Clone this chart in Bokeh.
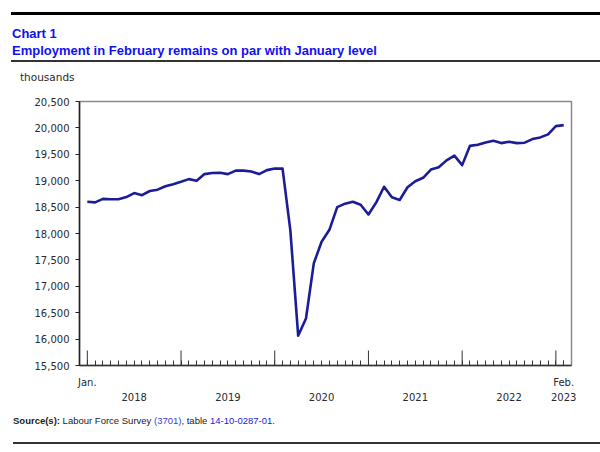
from bokeh.plotting import figure
from bokeh.models import (Range1d, FixedTicker, NumeralTickFormatter, LinearAxis, Div)
from bokeh.layouts import column
from bokeh.embed import file_html
from bokeh.resources import INLINE

# ---- data ----
title_1 = "Chart 1"
title_2 = "Employment in February remains on par with January level"
unit_label = "thousands"
years = [2018, 2019, 2020, 2021, 2022, 2023]
months = [f"{y}-{m:02d}" for y in years for m in range(1, 13)][:62]  # Jan 2018 .. Feb 2023
employment = [
    18600, 18590, 18655, 18650, 18650, 18690, 18765, 18725, 18805, 18830, 18895, 18935,
    18980, 19030, 19000, 19125, 19145, 19150, 19125, 19190, 19190, 19175, 19125, 19200,
    19230, 19228, 18060, 16065, 16390, 17435, 17845, 18070, 18500, 18565, 18600, 18545,
    18360, 18590, 18885, 18685, 18635, 18875, 18990, 19055, 19210, 19255, 19385, 19475,
    19295, 19660, 19680, 19725, 19755, 19712, 19738, 19712, 19720, 19788, 19820, 19877,
    20034, 20053,
]
y_ticks = [15500, 16000, 16500, 17000, 17500, 18000, 18500, 19000, 19500, 20000, 20500]
year_label_months = ["2018-07", "2019-07", "2020-07", "2021-07", "2022-07", "2023-02"]
year_labels = ["2018", "2019", "2020", "2021", "2022", "2023"]
end_labels = {"2018-01": "Jan.", "2023-02": "Feb."}

x_idx = list(range(len(months)))
jan_idx = [i for i, m in enumerate(months) if m.endswith("-01")]
end_idx = [months.index(m) for m in end_labels]
year_idx = [months.index(m) for m in year_label_months]

LINE = "#1c1c98"
TXT = "#2a2a2a"
AX = "#333333"
FONT_TICK = "DejaVu Sans"

# ---- header (titles, rules, unit) ----
header = Div(width=600, height=90, margin=(0, 0, 0, 0), text=f"""
<div style="position:relative;width:600px;height:90px;font-family:'Liberation Sans',Arial,sans-serif;">
  <div style="position:absolute;left:11px;top:12px;width:589px;height:0;border-top:3px solid #000;"></div>
  <div style="position:absolute;left:12px;top:26px;font-size:13px;font-weight:bold;color:#1010f0;line-height:16.5px;white-space:nowrap;">{title_1}<br>{title_2}</div>
  <div style="position:absolute;left:11px;top:60px;width:589px;height:0;border-top:2px solid #333;"></div>
  <div style="position:absolute;left:20px;top:70px;font-family:'DejaVu Sans';font-size:10.5px;line-height:14px;color:{TXT};white-space:nowrap;">{unit_label}</div>
</div>""")

# ---- figure ----
p = figure(width=600, height=320, output_backend="svg", toolbar_location=None,
           x_range=Range1d(-1, 62), y_range=Range1d(15500, 20500),
           min_border_left=79, min_border_right=29, min_border_top=11, min_border_bottom=45,
           background_fill_color="white", border_fill_color="white")
p.grid.visible = False
p.outline_line_color = "#8a8a8a"
p.outline_line_width = 1.5

p.line(x_idx, employment, line_width=2.6, color=LINE, line_join="round")

# long January ticks, pointing up from the x axis
p.ray(x=jan_idx, y=[p.y_range.start] * len(jan_idx), length=15, length_units="screen",
      angle=90, angle_units="deg", line_color=AX, line_width=1)

# y axis
ya = p.yaxis[0]
ya.ticker = FixedTicker(ticks=y_ticks)
ya.formatter = NumeralTickFormatter(format="0,0")
ya.major_label_text_font = FONT_TICK
ya.major_label_text_font_size = "10px"
ya.major_label_text_color = TXT
ya.major_tick_out = 4
ya.major_tick_in = 0
ya.minor_tick_out = 0
ya.minor_tick_in = 0
ya.major_label_standoff = 6
ya.axis_line_color = "#222222"
ya.axis_line_width = 1.5
ya.major_tick_line_color = "#222222"

# x axis: monthly ticks, end labels
xa = p.xaxis[0]
xa.ticker = FixedTicker(ticks=end_idx, minor_ticks=x_idx)
xa.major_label_overrides = {i: t for i, t in zip(end_idx, end_labels.values())}
xa.major_tick_in = 5
xa.major_tick_out = 0
xa.minor_tick_in = 5
xa.minor_tick_out = 0
xa.major_label_text_font = FONT_TICK
xa.major_label_text_font_size = "10px"
xa.major_label_text_color = TXT
xa.major_label_standoff = 11
xa.axis_line_color = AX
xa.axis_line_width = 1.5
xa.major_tick_line_color = AX
xa.minor_tick_line_color = AX

# x axis: year labels
xa2 = LinearAxis(ticker=FixedTicker(ticks=year_idx),
                 major_label_overrides={i: t for i, t in zip(year_idx, year_labels)},
                 axis_line_color=None, major_tick_line_color=None, minor_tick_line_color=None,
                 major_label_text_font=FONT_TICK, major_label_text_font_size="10px",
                 major_label_text_color=TXT, major_label_standoff=-4)
p.add_layout(xa2, "below")

# ---- footer ----
footer = Div(width=600, height=40, margin=(0, 0, 0, 0), text="""
<div style="position:relative;width:600px;height:40px;font-family:'Liberation Sans',Arial,sans-serif;">
  <div style="position:absolute;left:13px;top:5px;font-size:9.5px;line-height:12px;color:#222;white-space:nowrap;"><b>Source(s):</b> Labour Force Survey <span style="color:#3b3bd6;">(3701)</span>, table <span style="color:#1a1ae6;">14-10-0287-01</span>.</div>
  <div style="position:absolute;left:13px;top:32px;width:587px;height:0;border-top:2px solid #333;"></div>
</div>""")

layout = column(header, p, footer, spacing=0, margin=(0, 0, 0, 0))
open("out.html", "w").write(file_html(layout, INLINE))
